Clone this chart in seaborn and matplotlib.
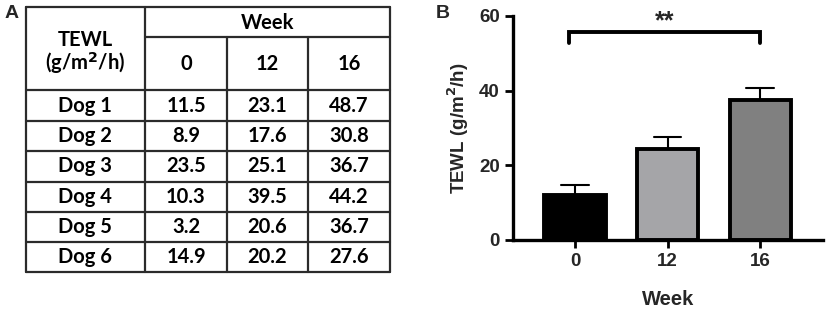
import numpy as np
import pandas as pd
import seaborn as sns
from matplotlib import pyplot as plt

# TEWL (g/m2/h) per dog and week
weeks = ["0", "12", "16"]
dogs = ["Dog 1", "Dog 2", "Dog 3", "Dog 4", "Dog 5", "Dog 6"]
week0 = [11.5, 8.9, 23.5, 10.3, 3.2, 14.9]
week12 = [23.1, 17.6, 25.1, 39.5, 20.6, 20.2]
week16 = [48.7, 30.8, 36.7, 44.2, 36.7, 27.6]
bar_colors = ["#000000", "#a5a5a8", "#808080"]

sns.set_style("ticks")
plt.rcParams["font.family"] = ["Liberation Sans", "DejaVu Sans"]

fig = plt.figure(figsize=(8.29, 3.15), dpi=100)
W, H = 829, 315

# ---------- panel A: table ----------
tab = fig.add_axes([0, 0, 1, 1])
tab.set_xlim(0, W)
tab.set_ylim(H, 0)
tab.axis("off")

col_x = [26, 145, 227, 308, 390]
row_y = [90, 121, 151, 182, 212, 242, 272]
lw = 1.6
lc = "#2b2b2b"
# outer box + grid
tab.plot([col_x[0], col_x[-1]], [7, 7], color=lc, lw=lw)
tab.plot([col_x[1], col_x[-1]], [37, 37], color=lc, lw=lw)
for y in row_y:
    tab.plot([col_x[0], col_x[-1]], [y, y], color=lc, lw=lw)
for i, x in enumerate(col_x):
    top = 37 if i in (2, 3) else 7
    tab.plot([x, x], [top, row_y[-1]], color=lc, lw=lw)

tfont = dict(family=["Lato", "DejaVu Sans"], fontweight="bold", fontsize=14.5,
             ha="center", va="center", color="black")
tab.text(85, 40, "TEWL", **tfont)
tab.text(85, 63, "(g/m$^\\mathbf{2}$/h)", **tfont)
tab.text((col_x[1] + col_x[-1]) / 2, 23, "Week", **tfont)
for j, wk in enumerate(weeks):
    tab.text((col_x[j + 1] + col_x[j + 2]) / 2, 64, wk, **tfont)
values = [week0, week12, week16]
for i, dog in enumerate(dogs):
    yc = (row_y[i] + row_y[i + 1]) / 2
    tab.text(85, yc, dog, **tfont)
    for j in range(3):
        tab.text((col_x[j + 1] + col_x[j + 2]) / 2, yc, f"{values[j][i]:.1f}", **tfont)

fig.text(5 / W, 1 - 14 / H, "A", fontsize=14, fontweight="bold", va="center")
fig.text(436 / W, 1 - 14 / H, "B", fontsize=14, fontweight="bold", va="center")

# ---------- panel B: bar chart ----------
df = pd.DataFrame({
    "Week": np.repeat(weeks, len(dogs)),
    "TEWL": week0 + week12 + week16,
})

ax = fig.add_axes([513 / W, 1 - 240 / H, (823 - 513) / W, (240 - 16) / H])
sns.barplot(data=df, x="Week", y="TEWL", hue="Week", palette=bar_colors,
            errorbar="se", capsize=0.3, err_kws={"color": "black", "linewidth": 1.5},
            width=0.66, edgecolor="black", linewidth=2.8, legend=False, ax=ax)
# error bars behind bars so only the upper half shows
for ln in ax.lines:
    ln.set_zorder(0.5)

ax.set_ylim(0, 60)
ax.set_xlim(-0.67, 2.68)
ax.set_yticks([0, 20, 40, 60])
ax.set_xlabel("Week", fontsize=14.5, fontweight="bold", labelpad=14)
ax.set_ylabel("TEWL (g/m$^\\mathbf{2}$/h)", fontsize=13.5, fontweight="bold", labelpad=6)
ax.tick_params(axis="both", width=2, length=6, labelsize=13.5, color="black")
for lab in ax.get_xticklabels() + ax.get_yticklabels():
    lab.set_fontweight("bold")
for side in ["left", "bottom"]:
    ax.spines[side].set_linewidth(2.4)
    ax.spines[side].set_color("black")
sns.despine(ax=ax)

# significance bracket
ax.plot([-0.07, -0.07, 2.0, 2.0], [52.8, 55.7, 55.7, 52.8], color="black",
        lw=2.8, clip_on=False, solid_joinstyle="miter")
ax.text(0.965, 58.6, "**", ha="center", va="center", fontsize=18, fontweight="bold")

fig.savefig("out.png", dpi=100)
